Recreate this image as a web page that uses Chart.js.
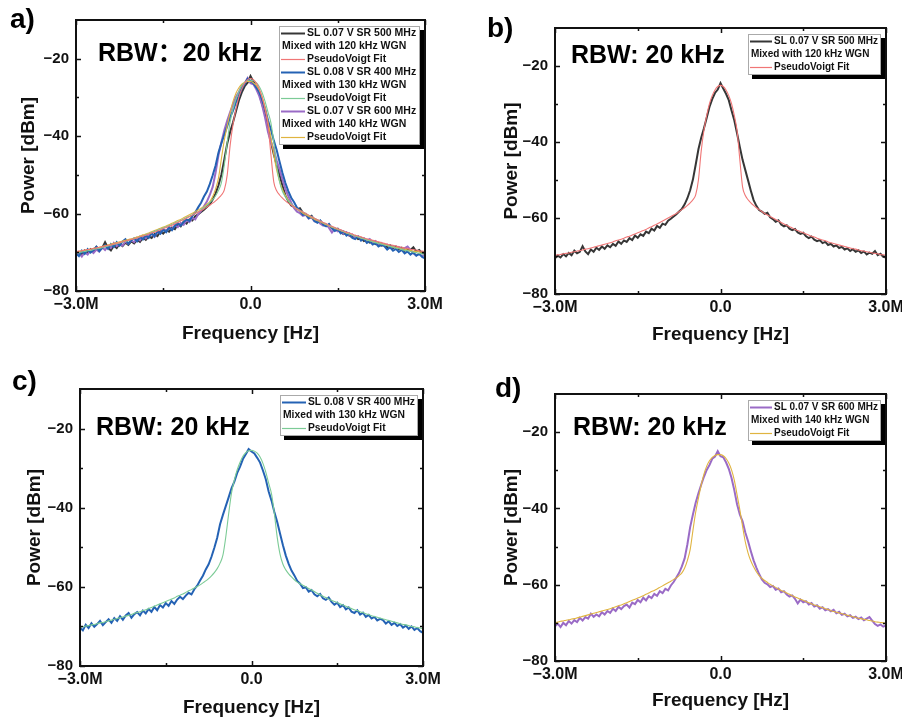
<!DOCTYPE html>
<html lang="en">
<head>
    <meta charset="UTF-8">
    <title>Spectra with PseudoVoigt fits</title>
    <script src="https://cdn.jsdelivr.net/npm/chart.js@4.4.1/dist/chart.umd.min.js"></script>
    <style>
        body { margin: 0; background: #fff; }
        #wrap { position: relative; width: 902px; height: 720px; }
        canvas { position: absolute; }
    </style>
</head>
<body>
<div id="wrap">
    <canvas id="pa" width="450" height="350" style="left:0;top:0"></canvas>
    <canvas id="pb" width="452" height="350" style="left:450px;top:0"></canvas>
    <canvas id="pc" width="450" height="365" style="left:0;top:355px"></canvas>
    <canvas id="pd" width="452" height="365" style="left:450px;top:355px"></canvas>
</div>
<script>
    // frequency grid in MHz
    const freqMHz = [
        -3.00, -2.95, -2.90, -2.85, -2.80, -2.75, -2.70, -2.65, -2.60, -2.55,
        -2.50, -2.45, -2.40, -2.35, -2.30, -2.25, -2.20, -2.15, -2.10, -2.05,
        -2.00, -1.95, -1.90, -1.85, -1.80, -1.75, -1.70, -1.65, -1.60, -1.55,
        -1.50, -1.45, -1.40, -1.35, -1.30, -1.25, -1.20, -1.15, -1.10, -1.05,
        -1.00, -0.95, -0.90, -0.85, -0.80, -0.75, -0.70, -0.65, -0.60, -0.55,
        -0.50, -0.45, -0.40, -0.35, -0.30, -0.25, -0.20, -0.15, -0.10, -0.05,
        0.00, 0.05, 0.10, 0.15, 0.20, 0.25, 0.30, 0.35, 0.40, 0.45,
        0.50, 0.55, 0.60, 0.65, 0.70, 0.75, 0.80, 0.85, 0.90, 0.95,
        1.00, 1.05, 1.10, 1.15, 1.20, 1.25, 1.30, 1.35, 1.40, 1.45,
        1.50, 1.55, 1.60, 1.65, 1.70, 1.75, 1.80, 1.85, 1.90, 1.95,
        2.00, 2.05, 2.10, 2.15, 2.20, 2.25, 2.30, 2.35, 2.40, 2.45,
        2.50, 2.55, 2.60, 2.65, 2.70, 2.75, 2.80, 2.85, 2.90, 2.95, 3.00
    ];

    // SL 0.07 V SR 500 MHz, 120 kHz WGN
    const sl500 = [
        -70.6, -69.9, -70.4, -69.5, -70.1, -69.2, -69.8, -68.6, -69.3, -68.9,
        -67.4, -68.8, -69.5, -68.3, -68.9, -67.8, -68.4, -67.5, -68.1, -67.2,
        -67.7, -66.8, -67.3, -66.2, -66.8, -65.9, -66.3, -65.3, -65.8, -64.6,
        -65.2, -64.3, -64.7, -63.6, -64.0, -62.8, -63.3, -62.1, -62.6, -61.5,
        -61.8, -60.7, -60.2, -59.6, -59.0, -58.3, -57.6, -56.4, -54.8, -52.7,
        -49.9, -46.0, -41.9, -38.9, -36.4, -33.6, -30.8, -28.7, -27.1, -26.2,
        -24.5, -25.9, -27.3, -29.0, -31.7, -34.3, -37.7, -41.3, -44.7, -47.4,
        -50.1, -52.8, -55.3, -56.8, -57.9, -58.3, -58.9, -58.6, -59.8, -60.3,
        -61.0, -60.6, -61.7, -62.2, -61.9, -62.8, -63.2, -62.9, -63.8, -64.2,
        -63.9, -64.8, -65.3, -64.9, -65.7, -66.1, -65.8, -66.6, -66.3, -67.1,
        -66.8, -67.5, -67.2, -67.9, -67.6, -68.3, -68.0, -68.7, -68.2, -68.9,
        -68.5, -69.2, -68.8, -69.6, -69.1, -69.4, -68.7, -69.8, -69.4, -70.2, -70.4
    ];
    const fit500 = [
        -69.8, -69.7, -69.6, -69.4, -69.3, -69.2, -69.0, -68.9, -68.7, -68.6,
        -68.4, -68.2, -68.1, -67.9, -67.7, -67.5, -67.3, -67.1, -66.9, -66.7,
        -66.5, -66.3, -66.0, -65.8, -65.6, -65.3, -65.0, -64.8, -64.5, -64.2,
        -63.9, -63.6, -63.3, -63.0, -62.6, -62.3, -61.9, -61.6, -61.2, -60.8,
        -60.4, -60.0, -59.6, -59.2, -58.8, -58.3, -57.8, -57.3, -56.7, -56.0,
        -55.2, -53.9, -50.0, -42.4, -36.9, -33.0, -29.9, -27.8, -26.3, -25.4,
        -25.1, -25.4, -26.3, -27.8, -29.9, -33.0, -37.0, -44.6, -51.8, -54.1,
        -55.2, -56.0, -56.7, -57.3, -57.8, -58.3, -58.8, -59.2, -59.6, -60.0,
        -60.4, -60.8, -61.2, -61.6, -61.9, -62.3, -62.6, -63.0, -63.3, -63.6,
        -63.9, -64.2, -64.5, -64.8, -65.0, -65.3, -65.6, -65.8, -66.0, -66.3,
        -66.5, -66.7, -66.9, -67.1, -67.3, -67.5, -67.7, -67.9, -68.1, -68.2,
        -68.4, -68.6, -68.7, -68.9, -69.0, -69.2, -69.3, -69.4, -69.6, -69.7, -69.8
    ];

    // SL 0.08 V SR 400 MHz, 130 kHz WGN
    const sl400 = [
        -70.3, -71.0, -69.6, -70.4, -69.2, -70.1, -69.4, -68.6, -69.7, -68.9,
        -68.2, -69.1, -67.9, -68.6, -67.4, -68.3, -67.2, -66.6, -67.8, -66.9,
        -66.4, -67.2, -66.0, -66.7, -65.6, -66.3, -65.1, -65.9, -64.6, -65.2,
        -64.1, -64.8, -63.6, -64.3, -63.2, -62.5, -63.1, -62.2, -61.5, -61.9,
        -60.6, -59.7, -58.4, -57.2, -55.6, -54.3, -52.4, -50.1, -47.6, -44.2,
        -41.8, -39.6, -37.4, -35.1, -33.4, -31.2, -29.6, -27.7, -26.5, -25.2,
        -25.8, -26.3, -27.4, -28.6, -30.6, -32.8, -35.9, -38.2, -41.1, -43.6,
        -46.6, -49.5, -52.1, -54.2, -55.9, -57.1, -58.5, -59.2, -60.3, -60.1,
        -61.2, -60.8, -61.9, -62.4, -61.8, -62.9, -63.3, -62.7, -63.8, -64.5,
        -64.0, -65.1, -64.6, -65.7, -65.2, -66.3, -66.6, -65.9, -67.0, -66.5,
        -67.6, -67.1, -68.0, -67.6, -68.5, -68.1, -68.4, -69.3, -68.7, -69.6,
        -69.1, -69.9, -69.4, -70.3, -69.8, -70.6, -70.0, -70.9, -70.4, -71.2, -71.6
    ];
    const fit400 = [
        -70.2, -70.1, -69.9, -69.8, -69.6, -69.5, -69.3, -69.1, -69.0, -68.8,
        -68.6, -68.4, -68.2, -68.0, -67.8, -67.6, -67.4, -67.2, -67.0, -66.7,
        -66.5, -66.3, -66.0, -65.8, -65.5, -65.2, -64.9, -64.6, -64.3, -64.0,
        -63.7, -63.4, -63.1, -62.8, -62.4, -62.1, -61.8, -61.4, -61.0, -60.7,
        -60.3, -59.9, -59.5, -59.0, -58.5, -57.9, -57.2, -56.4, -55.4, -54.0,
        -52.0, -47.4, -41.6, -36.3, -33.0, -30.4, -28.5, -27.0, -26.1, -25.6,
        -25.5, -25.7, -26.2, -27.2, -28.8, -31.0, -33.8, -36.5, -41.5, -47.5,
        -51.8, -54.3, -55.7, -56.7, -57.5, -58.2, -58.8, -59.2, -59.6, -60.0,
        -60.4, -60.8, -61.2, -61.6, -62.0, -62.4, -62.7, -63.1, -63.4, -63.7,
        -64.0, -64.3, -64.6, -64.9, -65.2, -65.5, -65.8, -66.0, -66.3, -66.5,
        -66.8, -67.0, -67.3, -67.5, -67.7, -67.9, -68.1, -68.3, -68.5, -68.7,
        -68.9, -69.1, -69.3, -69.5, -69.6, -69.8, -70.0, -70.1, -70.3, -70.4, -70.6
    ];

    // SL 0.07 V SR 600 MHz, 140 kHz WGN
    const sl600 = [
        -70.9, -70.2, -71.1, -70.0, -70.6, -69.5, -70.2, -69.3, -69.8, -68.7,
        -69.4, -68.5, -68.9, -67.6, -68.4, -67.8, -68.3, -67.2, -67.8, -66.9,
        -67.4, -66.3, -66.9, -65.8, -66.4, -65.6, -65.2, -66.0, -64.7, -65.1,
        -64.0, -64.6, -63.4, -64.1, -63.0, -63.5, -62.4, -62.9, -61.7, -62.2,
        -61.1, -61.5, -60.2, -59.3, -58.1, -56.9, -55.2, -53.1, -49.4, -44.9,
        -41.6, -38.5, -36.0, -33.8, -31.7, -29.9, -28.6, -27.0, -26.4, -25.0,
        -26.3, -26.6, -27.9, -29.6, -32.0, -35.2, -38.9, -41.6, -43.4, -46.3,
        -48.6, -51.2, -53.6, -55.5, -57.2, -58.6, -59.5, -59.9, -60.6, -60.3,
        -61.3, -61.0, -62.0, -61.7, -62.6, -63.1, -62.8, -63.7, -64.9, -63.9,
        -64.6, -64.3, -65.2, -64.8, -65.7, -65.4, -66.3, -65.9, -66.7, -66.4,
        -67.0, -66.6, -67.5, -67.1, -67.9, -67.6, -68.3, -68.0, -68.7, -68.4,
        -69.0, -68.6, -69.3, -68.9, -68.5, -69.4, -70.3, -70.8, -70.4, -71.0, -70.7
    ];
    const fit600 = [
        -69.9, -69.8, -69.6, -69.5, -69.3, -69.2, -69.0, -68.9, -68.7, -68.5,
        -68.3, -68.1, -67.9, -67.7, -67.5, -67.3, -67.1, -66.9, -66.7, -66.5,
        -66.3, -66.0, -65.8, -65.5, -65.3, -65.0, -64.7, -64.4, -64.1, -63.8,
        -63.5, -63.2, -62.9, -62.5, -62.2, -61.8, -61.5, -61.1, -60.7, -60.3,
        -59.9, -59.5, -59.1, -58.6, -58.2, -57.6, -56.9, -55.6, -53.6, -50.8,
        -45.8, -41.0, -37.3, -33.9, -31.0, -28.9, -27.5, -26.6, -26.1, -25.9,
        -25.9, -26.2, -26.9, -28.1, -29.9, -32.6, -36.4, -40.3, -44.7, -48.8,
        -51.7, -53.8, -55.3, -56.6, -57.6, -58.3, -58.9, -59.4, -59.9, -60.3,
        -60.7, -61.1, -61.5, -61.8, -62.2, -62.5, -62.9, -63.2, -63.5, -63.8,
        -64.1, -64.4, -64.7, -65.0, -65.3, -65.5, -65.8, -66.0, -66.3, -66.5,
        -66.8, -67.0, -67.2, -67.4, -67.6, -67.8, -68.0, -68.2, -68.4, -68.6,
        -68.8, -68.9, -69.1, -69.2, -69.4, -69.5, -69.7, -69.8, -69.9, -70.0, -70.1
    ];

    const seriesValues = [sl500, fit500, sl400, fit400, sl600, fit600];
    const seriesNames = ['SL 0.07 V SR 500 MHz', 'PseudoVoigt Fit', 'SL 0.08 V SR 400 MHz', 'PseudoVoigt Fit', 'SL 0.07 V SR 600 MHz', 'PseudoVoigt Fit'];
    const noiseNames = ['Mixed with 120 kHz WGN', null, 'Mixed with 130 kHz WGN', null, 'Mixed with 140 kHz WGN', null];
    const seriesColors = ['#363636', '#f07676', '#2462b4', '#7ccb96', '#9a6bc6', '#e0b440'];
    const isFit = [false, true, false, true, false, true];

    const xTickVals = [-3, 0, 3];
    const xTickText = ['\u22123.0M', '0.0', '3.0M'];
    const xMinorVals = [-1.5, 1.5];
    const yTickVals = [-80, -60, -40, -20];
    const yTickText = ['\u221280', '\u221260', '\u221240', '\u221220'];
    const yMinorVals = [-70, -50, -30];

    const FONT = "'Liberation Sans', Arial, 'Noto Sans CJK SC', sans-serif";

    const panels = [
        {id: 'pa', tag: 'a)', rbw: 'RBW\uFF1A20 kHz', series: [0, 1, 2, 3, 4, 5], w: 450, h: 350,
         area: {l: 76, t: 20, r: 425, b: 291}, yTitleX: 28.5, xTitleY: 334, rbwPos: [98, 61], tagPos: [10, 28],
         legendW: 140, legendFont: 10.5, textOff: 28},
        {id: 'pb', tag: 'b)', rbw: 'RBW: 20 kHz', series: [0, 1], w: 452, h: 350,
         area: {l: 105, t: 28, r: 436, b: 294}, yTitleX: 61.5, xTitleY: 335, rbwPos: [121, 63], tagPos: [37, 37],
         legendW: 132, legendFont: 10, textOff: 26},
        {id: 'pc', tag: 'c)', rbw: 'RBW: 20 kHz', series: [2, 3], w: 450, h: 365,
         area: {l: 80, t: 34, r: 423, b: 311}, yTitleX: 35, xTitleY: 353, rbwPos: [96, 80], tagPos: [12, 35],
         legendW: 137, legendFont: 10.3, textOff: 28},
        {id: 'pd', tag: 'd)', rbw: 'RBW: 20 kHz', series: [4, 5], w: 452, h: 365,
         area: {l: 105, t: 39, r: 436, b: 306}, yTitleX: 61.5, xTitleY: 346, rbwPos: [123, 80], tagPos: [45, 42],
         legendW: 132, legendFont: 10, textOff: 26}
    ];

    // frame, inward ticks, legend box and annotations
    const panelDeco = {
        id: 'panelDeco',
        afterDatasetsDraw(chart, args, opts) {
            const ctx = chart.ctx, a = chart.chartArea;
            const xs = chart.scales.x, ys = chart.scales.y;
            ctx.save();
            ctx.strokeStyle = '#111';
            ctx.lineWidth = 1.5;
            ctx.beginPath();
            const xt = xTickVals.map(v => [v, 5]).concat(xMinorVals.map(v => [v, 3]));
            xt.forEach(([v, len]) => {
                const px = Math.round(xs.getPixelForValue(v)) + 0.5;
                ctx.moveTo(px, a.bottom); ctx.lineTo(px, a.bottom - len);
                ctx.moveTo(px, a.top); ctx.lineTo(px, a.top + len);
            });
            const yt = yTickVals.map(v => [v, 5]).concat(yMinorVals.map(v => [v, 3]));
            yt.forEach(([v, len]) => {
                const py = Math.round(ys.getPixelForValue(v)) + 0.5;
                ctx.moveTo(a.left, py); ctx.lineTo(a.left + len, py);
                ctx.moveTo(a.right, py); ctx.lineTo(a.right - len, py);
            });
            ctx.stroke();
            ctx.lineWidth = 2;
            ctx.strokeRect(a.left, a.top, a.right - a.left, a.bottom - a.top);

            // legend
            const lines = [];
            opts.series.forEach(i => {
                lines.push({text: seriesNames[i], color: seriesColors[i], fit: isFit[i]});
                if (noiseNames[i]) lines.push({text: noiseNames[i]});
            });
            const bw = opts.legendW, bh = lines.length * 13 + 1;
            const bx = a.right - 6 - bw, by = a.top + 6;
            ctx.fillStyle = '#000';
            ctx.fillRect(bx + 4, by + 4, bw + 1, bh + 1);
            ctx.fillStyle = '#fff';
            ctx.fillRect(bx, by, bw, bh);
            ctx.strokeStyle = '#aaa';
            ctx.lineWidth = 1;
            ctx.strokeRect(bx + 0.5, by + 0.5, bw, bh);
            ctx.font = 'bold ' + opts.legendFont + 'px ' + FONT;
            ctx.textBaseline = 'middle';
            ctx.textAlign = 'left';
            lines.forEach((ln, k) => {
                const cy = by + 7.5 + k * 13;
                if (ln.color) {
                    ctx.strokeStyle = ln.color;
                    ctx.lineWidth = ln.fit ? 1.2 : 2;
                    ctx.beginPath();
                    ctx.moveTo(bx + 2, cy); ctx.lineTo(bx + opts.textOff - 2, cy);
                    ctx.stroke();
                    ctx.fillStyle = '#111';
                    ctx.fillText(ln.text, bx + opts.textOff, cy);
                } else {
                    ctx.fillStyle = '#111';
                    ctx.fillText(ln.text, bx + 3, cy);
                }
            });

            // RBW note and panel tag
            ctx.fillStyle = '#000';
            ctx.textBaseline = 'alphabetic';
            ctx.font = 'bold 25px ' + FONT;
            ctx.fillText(opts.rbw, opts.rbwPos[0], opts.rbwPos[1]);
            ctx.font = 'bold 28px ' + FONT;
            ctx.fillText(opts.tag, opts.tagPos[0], opts.tagPos[1]);
            ctx.restore();
        }
    };

    panels.forEach(p => {
        const lh = 19 * 1.2;
        const padLeft = p.yTitleX - lh / 2;
        const yW = p.area.l - padLeft;
        const xH = p.xTitleY + lh / 2 - p.area.b;
        const padBottom = Math.max(p.h - p.area.b - xH, 0);

        const datasets = p.series.map(i => ({
            label: seriesNames[i],
            data: freqMHz.map((f, k) => ({x: f, y: seriesValues[i][k]})),
            borderColor: seriesColors[i],
            borderWidth: isFit[i] ? 1.1 : 2,
            pointRadius: 0,
            tension: 0,
            cubicInterpolationMode: isFit[i] ? 'monotone' : 'default',
            order: isFit[i] ? 0 : (i === 2 ? 1 : (i === 4 ? 2 : 3))
        }));

        new Chart(document.getElementById(p.id), {
            type: 'line',
            data: {datasets: datasets},
            options: {
                responsive: false,
                animation: false,
                devicePixelRatio: 1,
                layout: {padding: {left: padLeft, top: p.area.t, right: p.w - p.area.r, bottom: padBottom}},
                plugins: {
                    legend: {display: false},
                    tooltip: {enabled: false},
                    panelDeco: p
                },
                scales: {
                    x: {
                        type: 'linear', min: -3, max: 3,
                        afterBuildTicks: s => { s.ticks = xTickVals.map(v => ({value: v})); },
                        afterFit: s => { s.height = xH; s.paddingLeft = 0; s.paddingRight = 0; },
                        grid: {display: false, drawTicks: false},
                        border: {display: false},
                        ticks: {
                            padding: 4, maxRotation: 0, color: '#111',
                            font: {family: FONT, size: 16, weight: 'bold'},
                            callback: v => xTickText[xTickVals.indexOf(v)]
                        },
                        title: {display: true, text: 'Frequency [Hz]', color: '#111', padding: 0,
                                font: {family: FONT, size: 19, weight: 'bold', lineHeight: 1.2}}
                    },
                    y: {
                        type: 'linear', min: -80, max: -10,
                        afterBuildTicks: s => { s.ticks = yTickVals.map(v => ({value: v})); },
                        afterFit: s => { s.width = yW; s.paddingTop = 0; s.paddingBottom = 0; },
                        grid: {display: false, drawTicks: false},
                        border: {display: false},
                        ticks: {
                            padding: 7, color: '#111',
                            font: {family: FONT, size: 15, weight: 'bold'},
                            callback: v => yTickText[yTickVals.indexOf(v)]
                        },
                        title: {display: true, text: 'Power [dBm]', color: '#111', padding: 0,
                                font: {family: FONT, size: 19, weight: 'bold', lineHeight: 1.2}}
                    }
                }
            },
            plugins: [panelDeco]
        });
    });
</script>
</body>
</html>
